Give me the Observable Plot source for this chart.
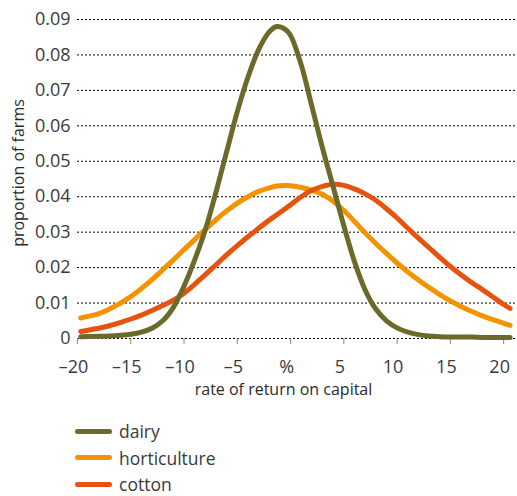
<!DOCTYPE html>
<html><head><meta charset="utf-8">
<script src="https://cdn.jsdelivr.net/npm/d3@7"></script>
<script src="https://cdn.jsdelivr.net/npm/@observablehq/plot@0.6"></script>
<style>
body{margin:0;background:#fff;font-family:"Open Sans",sans-serif;}
#wrap{position:relative;width:517px;height:496px;overflow:hidden;}
#legend{position:absolute;left:75px;top:417.75px;}
.row{display:flex;align-items:center;height:26.5px;font-size:17.5px;line-height:16px;color:#3a3a3a;}
.sw{width:37px;height:5px;border-radius:3px;margin-right:7px;}
</style></head><body><div id="wrap"><div id="chart"></div><div id="legend"></div></div>
<script>
const seriesNames = ["dairy", "horticulture", "cotton"];
const seriesColors = ["#6c6a2b", "#f49300", "#e8520f"];
const xValues = [-19.7,-18,-17,-16,-15,-14,-13,-12,-11,-10,-9,-8,-7,-6,-5,-4,-3,-2,-1.3,-0.5,0,1,2,3,4,5,6,7,8,9,10,11,12,13,14,15,16,17,18,19,20,20.6];
const dairy = [0.0005,0.0006,0.0007,0.0009,0.0012,0.0018,0.0029,0.0050,0.0088,0.0148,0.0222,0.0307,0.0413,0.0527,0.0640,0.0737,0.0815,0.0865,0.0880,0.0872,0.0855,0.0772,0.0655,0.0537,0.0428,0.0318,0.0217,0.0137,0.0083,0.0050,0.0030,0.0018,0.0011,0.0007,0.0005,0.0004,0.0004,0.0004,0.0003,0.0003,0.0003,0.0003];
const horticulture = [0.0058,0.0070,0.0083,0.0099,0.0118,0.0141,0.0166,0.0194,0.0222,0.0251,0.0279,0.0308,0.0335,0.0360,0.0382,0.0400,0.0415,0.0425,0.0430,0.0432,0.0431,0.0426,0.0418,0.0407,0.0387,0.0361,0.0330,0.0298,0.0268,0.0240,0.0213,0.0188,0.0165,0.0144,0.0124,0.0106,0.0090,0.0076,0.0064,0.0053,0.0043,0.0037];
const cotton = [0.0020,0.0029,0.0036,0.0045,0.0055,0.0066,0.0079,0.0093,0.0108,0.0128,0.0153,0.0180,0.0208,0.0236,0.0262,0.0287,0.0311,0.0334,0.0349,0.0366,0.0377,0.0400,0.0418,0.0429,0.0435,0.0432,0.0422,0.0408,0.0390,0.0366,0.0340,0.0311,0.0283,0.0256,0.0229,0.0203,0.0180,0.0158,0.0138,0.0117,0.0096,0.0085];
const xTicks = [-20,-15,-10,-5,0,5,10,15,20];
const xTickLabels = ["–20","–15","–10","–5","%","5","10","15","20"];
const yTicks = [0,0.01,0.02,0.03,0.04,0.05,0.06,0.07,0.08,0.09];
const yTickLabels = ["0","0.01","0.02","0.03","0.04","0.05","0.06","0.07","0.08","0.09"];
const xLabel = "rate of return on capital";
const yLabel = "proportion of farms";

const valuesBySeries = {dairy, horticulture, cotton};
const drawOrder = ["horticulture", "cotton", "dairy"];
const data = [];
for (const name of drawOrder) {
  valuesBySeries[name].forEach((v, i) => data.push({series: name, x: xValues[i], y: v}));
}

const chart = Plot.plot({
  width: 517, height: 405,
  marginLeft: 77, marginRight: 0, marginTop: 19, marginBottom: 67,
  style: {fontFamily: "'Open Sans', sans-serif", fontSize: "18px", color: "#3a3a3a", background: "#fff", overflow: "visible"},
  x: {domain: [-20, 21.3]},
  y: {domain: [0, 0.09]},
  color: {domain: seriesNames, range: seriesColors},
  marks: [
    Plot.gridY(yTicks, {stroke: "#000", strokeOpacity: 1, strokeWidth: 1, strokeDasharray: "2,2"}),
    Plot.axisY(yTicks, {tickSize: 0, tickPadding: 7, label: null, tickFormat: d => yTickLabels[yTicks.indexOf(d)]}),
    Plot.axisX(xTicks, {tickSize: 6, stroke: "#888", fill: "none", label: null}),
    Plot.axisX(xTicks, {tickSize: 0, tickPadding: 22, dx: -4, label: null, tickFormat: d => xTickLabels[xTicks.indexOf(d)]}),
    Plot.line(data, {x: "x", y: "y", z: "series", stroke: "series", strokeWidth: 5, curve: "catmull-rom", strokeLinecap: "round", strokeLinejoin: "round"}),
    Plot.text([xLabel], {frameAnchor: "bottom", dy: 56, dx: -14, fontSize: 16, fill: "#2a2a2a"}),
    Plot.text([yLabel], {frameAnchor: "left", textAnchor: "middle", rotate: -90, dx: -59, dy: -6, fontSize: 16, fill: "#2a2a2a"})
  ]
});
document.getElementById("chart").appendChild(chart);

const legend = document.getElementById("legend");
seriesNames.forEach((name, i) => {
  const row = document.createElement("div");
  row.className = "row";
  const sw = document.createElement("div");
  sw.className = "sw";
  sw.style.background = seriesColors[i];
  const label = document.createElement("span");
  label.textContent = name;
  row.appendChild(sw);
  row.appendChild(label);
  legend.appendChild(row);
});
</script>
</body></html>
